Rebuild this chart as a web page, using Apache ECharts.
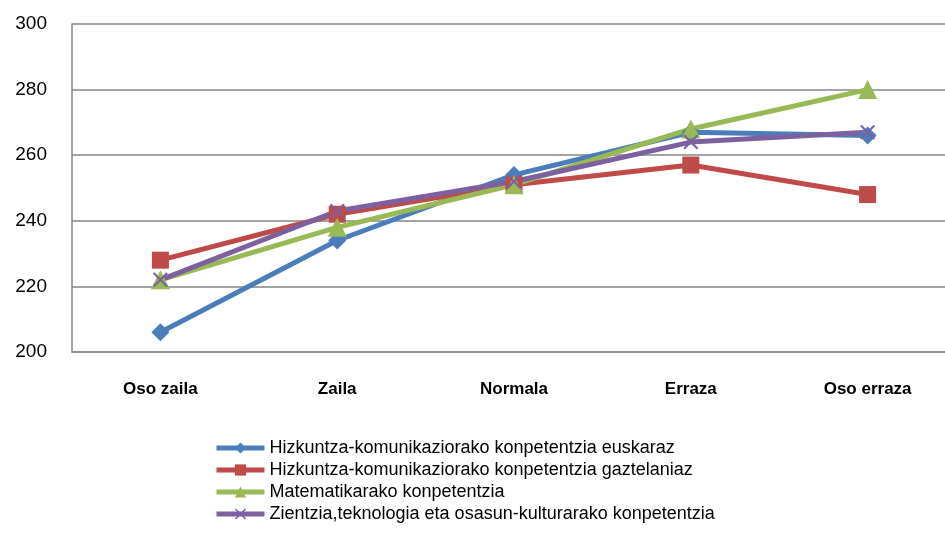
<!DOCTYPE html>
<html>
<head>
<meta charset="utf-8">
<script src="https://cdn.jsdelivr.net/npm/echarts@6/dist/echarts.min.js"></script>
<style>
  html, body { margin: 0; padding: 0; background: #fff; overflow: hidden; }
  /* marrazki eremua eskuinean mozten da (jatorrizkoan bezala) */
  #chart { width: 956px; height: 539px; }
</style>
</head>
<body>
<div id="chart"></div>
<script>
// kategoriak (zailtasun maila)
const categories = ['Oso zaila', 'Zaila', 'Normala', 'Erraza', 'Oso erraza'];

// serieen izenak
const seriesNames = [
  'Hizkuntza-komunikaziorako konpetentzia euskaraz',
  'Hizkuntza-komunikaziorako konpetentzia gaztelaniaz',
  'Matematikarako konpetentzia',
  'Zientzia,teknologia eta osasun-kulturarako konpetentzia'
];

// balioak
const euskaraz = [206, 234, 254, 267, 266];
const gaztelaniaz = [228, 242, 251, 257, 248];
const matematika = [222, 238, 251, 268, 280];
const zientzia = [222, 243, 252, 264, 267];

const yTicks = [200, 220, 240, 260, 280, 300];

const colors = ['#4A7EBB', '#BE4B48', '#98B954', '#7D60A0'];
// X ikurra (path bidez)
const xPath = 'path://M0,1L1,0L5,4L9,0L10,1L6,5L10,9L9,10L5,6L1,10L0,9L4,5Z';

const chart = echarts.init(document.getElementById('chart'));

function makeSeries(name, data, color, symbol, size) {
  return {
    name: name,
    type: 'line',
    data: data,
    symbol: symbol,
    symbolSize: size,
    showAllSymbol: true,
    lineStyle: { width: 5, color: color },
    itemStyle: { color: color },
    emphasis: { disabled: true }
  };
}

chart.setOption({
  animation: false,
  color: colors,
  grid: { left: 72, top: 24, right: 0, height: 328 },
  legend: {
    orient: 'vertical',
    left: 209,
    top: 434,
    itemWidth: 48,
    itemHeight: 14,
    itemGap: 4,
    lineStyle: { width: 5 },
    textStyle: { fontFamily: 'Liberation Sans', fontSize: 18, lineHeight: 18, color: '#000' },
    data: seriesNames
  },
  xAxis: {
    type: 'category',
    data: categories,
    boundaryGap: true,
    axisLine: { lineStyle: { color: '#868686', width: 1.5 } },
    axisTick: { show: false },
    axisLabel: {
      margin: 29,
      fontFamily: 'Liberation Sans',
      fontWeight: 'bold',
      fontSize: 17,
      color: '#000'
    }
  },
  yAxis: {
    type: 'value',
    min: yTicks[0],
    max: yTicks[yTicks.length - 1],
    interval: 20,
    axisLine: { show: true, lineStyle: { color: '#868686', width: 1.5 } },
    axisTick: { show: false },
    splitLine: { lineStyle: { color: '#868686', width: 1.5 } },
    axisLabel: {
      margin: 25,
      fontFamily: 'Liberation Sans',
      fontSize: 19,
      color: '#000'
    }
  },
  series: [
    makeSeries(seriesNames[0], euskaraz, colors[0], 'diamond', 18),
    makeSeries(seriesNames[1], gaztelaniaz, colors[1], 'rect', 17),
    makeSeries(seriesNames[2], matematika, colors[2], 'triangle', 19),
    makeSeries(seriesNames[3], zientzia, colors[3], xPath, 15)
  ]
});
</script>
</body>
</html>
